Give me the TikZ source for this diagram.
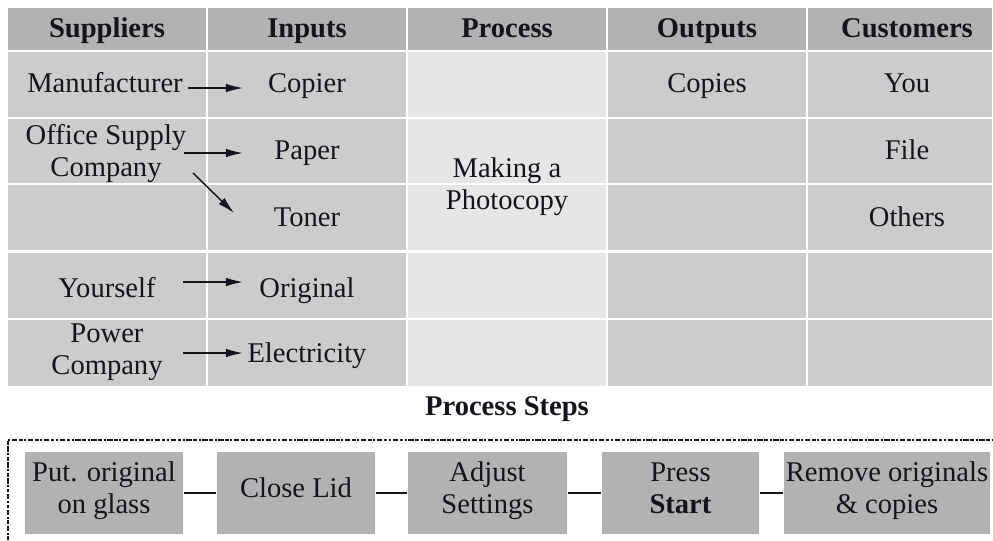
\documentclass[tikz,border=0pt]{standalone}
\usepackage{fontspec}
\setmainfont{Liberation Serif}
\usetikzlibrary{arrows.meta}
\definecolor{headgray}{RGB}{178,178,178}
\definecolor{cellgray}{RGB}{204,204,204}
\definecolor{procgray}{RGB}{230,230,230}
\definecolor{stepgray}{RGB}{178,178,178}
\definecolor{ink}{RGB}{20,20,28}
\begin{document}
\begin{tikzpicture}[x=0.35pt,y=-0.35pt,
  font=\fontsize{10}{11.2}\selectfont,
  % text nodes sit on their (last) baseline
  txt/.style={inner sep=0pt,align=center,text=ink,anchor=base},
  head/.style={txt,font=\fontsize{10}{11.2}\selectfont\bfseries},
  arr/.style={-{Latex[length=6pt,width=3pt]},line width=0.5pt,draw=ink},
  stepbox/.style={fill=stepgray,inner sep=0pt,minimum height=82*0.35pt},
  steptxt/.style={txt},
  link/.style={line width=0.5pt,draw=ink},
  dashline/.style={line width=0.9pt,draw=ink,dash pattern=on 1.3pt off 0.55pt on 0.7pt off 0.55pt on 1.9pt off 0.55pt}]
\useasboundingbox (0,0) rectangle (993,540);

% table cells: header row, then five body rows
\foreach \xa/\xb [count=\c] in {8/207,208/407,408/607,608/807,808/993}{
  \fill[headgray] (\xa,8) rectangle (\xb-1,50);
  \foreach \ya/\yb in {52/117,119/183,185/250,253/318,320/386}{
    \ifnum\c=3
      \fill[procgray] (\xa,\ya) rectangle (\xb-1,\yb);
    \else
      \fill[cellgray] (\xa,\ya) rectangle (\xb-1,\yb);
    \fi
  }
}

% column headings
\node[head] (hsup)  at (107,37) {Suppliers};
\node[head] (hin)   at (307,37) {Inputs};
\node[head] (hproc) at (507,37) {Process};
\node[head] (hout)  at (707,37) {Outputs};
\node[head] (hcust) at (907,37) {Customers};

% suppliers
\node[txt] (manu)   at (105,92)  {Manufacturer};
\node[txt] (office) at (106,176) {Office Supply\\Company};
\node[txt] (self)   at (107,297) {Yourself};
\node[txt] (power)  at (107,374) {Power\\Company};

% inputs
\node[txt] (copier) at (307,92)  {Copier};
\node[txt] (paper)  at (307,159) {Paper};
\node[txt] (toner)  at (307,226) {Toner};
\node[txt] (orig)   at (307,297) {Original};
\node[txt] (elec)   at (307,362) {Electricity};

% process, outputs, customers
\node[txt] (making) at (507,209) {Making a\\Photocopy};
\node[txt] (copies) at (707,92)  {Copies};
\node[txt] (you)    at (907,92)  {You};
\node[txt] (file)   at (907,159) {File};
\node[txt] (others) at (907,226) {Others};

% supplier-to-input arrows
\coordinate (m1) at (188,88);  \coordinate (m2) at (243,88);
\coordinate (p1) at (184,153); \coordinate (p2) at (243,153);
\coordinate (t1) at (193,173); \coordinate (t2) at (234,213);
\coordinate (y1) at (183,282); \coordinate (y2) at (243,282);
\coordinate (e1) at (183,353); \coordinate (e2) at (243,353);
\draw[arr] (m1) -- (m2);
\draw[arr] (p1) -- (p2);
\draw[arr] (t1) -- (t2);
\draw[arr] (y1) -- (y2);
\draw[arr] (e1) -- (e2);

% process steps and their dashed frame
\node[head] (steps) at (507,415) {Process Steps};
\draw[dashline] (8,540) -- (8,440) -- (993,440);

\node[stepbox,minimum width=158*0.35pt] (s1) at (104,493)   {};
\node[stepbox,minimum width=158*0.35pt] (s2) at (296,493)   {};
\node[stepbox,minimum width=159*0.35pt] (s3) at (487.5,493) {};
\node[stepbox,minimum width=157*0.35pt] (s4) at (680.5,493) {};
\node[stepbox,minimum width=206*0.35pt] (s5) at (887,493)   {};

\node[steptxt] (s1t) at (104,513)   {Put. original\\on glass};
\node[steptxt] (s2t) at (296,497)   {Close Lid};
\node[steptxt] (s3t) at (487.5,513) {Adjust\\Settings};
\node[steptxt] (s4t) at (680.5,513) {Press\\\textbf{Start}};
\node[steptxt] (s5t) at (887,513)   {Remove originals\\\& copies};

\draw[link] (s1) -- (s2);
\draw[link] (s2) -- (s3);
\draw[link] (s3) -- (s4);
\draw[link] (s4) -- (s5);
\end{tikzpicture}
\end{document}
